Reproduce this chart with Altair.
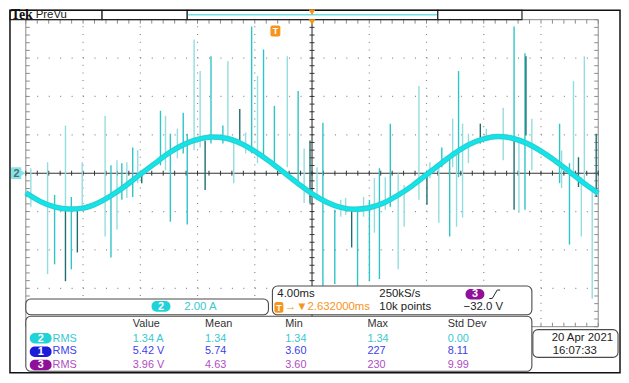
import altair as alt
import pandas as pd
import numpy as np

# ---------------- values read from the screen ----------------
# channel 2 current trace (ms, A) – 4 ms/div, 2 A/div, trigger at centre
trace_ms = list(range(-20, 21))
trace_amp = [-1.02, -1.47, -1.76, -1.87, -1.82, -1.57, -1.15, -0.64, -0.06, 0.50,
             1.05, 1.48, 1.76, 1.89, 1.82, 1.56, 1.14, 0.63, 0.05, -0.53,
             -1.07, -1.50, -1.78, -1.88, -1.80, -1.55, -1.15, -0.66, -0.08, 0.50,
             1.05, 1.50, 1.79, 1.91, 1.82, 1.56, 1.15, 0.64, 0.07, -0.52, -1.04]

# switching spikes riding on the trace: time, top, bottom, shade
spike_ms = [-19.65, -18.48, -17.99, -17.23, -17.23, -16.82, -16.40, -16.06, -14.46, -14.05,
            -13.63, -13.29, -12.94, -12.53, -12.18, -11.90, -10.59, -10.24, -9.90, -9.41,
            -9.00, -8.72, -8.24, -7.82, -7.47, -7.06, -6.23, -5.88, -5.47, -5.05,
            -4.64, -4.22, -3.81, -3.39, -2.63, -1.73, -0.97, -0.55, -0.14, 0.35,
            0.76, 1.59, 2.01, 2.35, 2.77, 3.18, 3.60, 4.01, 4.36, 4.71,
            5.12, 5.47, 6.02, 6.44, 7.47, 8.03, 8.24, 8.86, 9.07, 9.62,
            9.83, 10.10, 10.24, 10.52, 10.93, 11.76, 12.18, 13.36, 14.12, 14.12,
            14.46, 14.88, 14.95, 15.36, 17.30, 17.44, 17.99, 18.27, 18.62, 18.82,
            19.03, 19.58, 19.86]
spike_hi = [0.26, 0.57, -1.14, 2.48, -1.91, -1.24, -1.75, 0.57, 2.99, 0.41,
            0.67, 0.52, 0.57, 1.34, 1.19, 0.05, 3.25, 2.99, 2.06, 2.32,
            3.15, 2.06, 6.97, 5.32, 1.70, 6.09, 2.48, 5.83, 1.70, 3.35,
            2.12, 7.64, 5.06, 6.45, 3.51, 6.09, 4.28, 1.29, 1.70, 0.31,
            2.63, -1.91, -1.39, -1.29, -1.91, -1.91, -1.24, -1.39, -0.26, 0.26,
            -0.21, 2.58, 0.00, -0.62, 4.54, 0.05, 0.57, 0.31, 1.34, 0.83,
            2.84, 1.19, 5.32, 2.58, 2.06, 2.58, 2.32, 3.41, 7.64, 1.70,
            1.86, 6.25, 6.09, 2.84, 2.58, 1.19, 0.52, 4.80, 0.83, -0.21,
            6.09, -0.72, 2.06]
spike_lo = [-1.75, -5.26, -4.75, -1.91, -5.63, -5.01, -4.13, -1.75, -3.30, -4.39,
            -2.94, -1.39, -1.29, -1.24, -0.52, -0.52, 0.41, 0.15, -2.53, 0.77,
            1.03, -2.68, 1.19, 1.34, -0.88, 1.55, 1.55, 1.70, -0.52, 1.60,
            1.03, 1.03, 0.52, 0.77, 0.31, 0.31, -0.52, -1.55, -1.55, -1.39,
            -6.55, -5.78, -2.27, -2.17, -3.87, -6.04, -2.27, -5.63, -3.10, -5.52,
            -1.91, -1.75, -5.01, -2.79, -1.39, -1.65, -0.26, -2.58, 0.31, -3.30,
            0.31, -2.79, -0.21, -2.32, 0.52, 1.55, 1.70, 0.67, 1.70, -1.91,
            -2.06, -1.91, 1.96, 0.15, -0.52, -0.77, -3.72, 0.05, -0.72, -3.30,
            -0.52, -6.55, -1.24]
spike_shade = ["L", "L", "M", "L", "D", "M", "D", "L", "L", "M",
               "L", "M", "L", "M", "L", "D", "M", "L", "M", "L",
               "M", "M", "L", "L", "D", "M", "M", "L", "L", "D",
               "L", "M", "L", "M", "M", "L", "M", "L", "D", "L",
               "M", "M", "L", "L", "D", "M", "L", "M", "L", "M",
               "L", "M", "L", "L", "L", "D", "L", "L", "M", "M",
               "L", "L", "M", "L", "L", "D", "L", "L", "M", "D",
               "L", "M", "D", "L", "M", "L", "M", "L", "D", "L",
               "L", "L", "D"]

meas_source = ["2", "1", "3"]
meas_kind = ["RMS", "RMS", "RMS"]
meas_value = ["1.34 A", "5.42 V", "3.96 V"]
meas_mean = ["1.34", "5.74", "4.63"]
meas_min = ["1.34", "3.60", "3.60"]
meas_max = ["1.34", "227", "230"]
meas_std = ["0.00", "8.11", "9.99"]
meas_headers = ["Value", "Mean", "Min", "Max", "Std Dev"]

# ---------------- styling ----------------
W, H = 578, 310
OX, OY = 26, 18          # page position of the graticule's top-left corner
SHADE = {"L": "#93dde0", "M": "#2fc4c7", "D": "#1e6e70"}
ROWCOL = ["#36c9d0", "#4040e8", "#b24cc2"]
PILLCOL = ["#1fd3d8", "#1b1bd9", "#8f1199"]
ORANGE = "#f7941d"
FONT = "Liberation Sans"

XS = alt.Scale(domain=[-20, 20], nice=False, zero=False)
YS = alt.Scale(domain=[-8, 8], nice=False, zero=False)


def dx(field):
    return alt.X(field, type="quantitative", scale=XS, axis=None)


def dy(field):
    return alt.Y(field, type="quantitative", scale=YS, axis=None)


def prect(rows, radius=0, sw=1.0):
    df = pd.DataFrame(rows, columns=["X1", "Y1", "X2", "Y2", "fill", "stroke"])
    df["x1"], df["x2"] = df.X1 - OX, df.X2 - OX
    df["y1"], df["y2"] = df.Y1 - OY, df.Y2 - OY
    return alt.Chart(df).mark_rect(cornerRadius=radius, strokeWidth=sw).encode(
        x=alt.X("x1:Q", scale=None, axis=None), x2="x2:Q",
        y=alt.Y("y1:Q", scale=None, axis=None), y2="y2:Q",
        fill=alt.Fill("fill:N", scale=None), stroke=alt.Stroke("stroke:N", scale=None))


def prule(rows):
    df = pd.DataFrame(rows, columns=["X1", "Y1", "X2", "Y2", "color", "w"])
    df["x1"], df["x2"] = df.X1 - OX, df.X2 - OX
    df["y1"], df["y2"] = df.Y1 - OY, df.Y2 - OY
    return alt.Chart(df).mark_rule().encode(
        x=alt.X("x1:Q", scale=None, axis=None), x2="x2:Q",
        y=alt.Y("y1:Q", scale=None, axis=None), y2="y2:Q",
        color=alt.Color("color:N", scale=None),
        strokeWidth=alt.StrokeWidth("w:Q", scale=None))


def ptext(rows, **mark):
    df = pd.DataFrame(rows, columns=["X", "Y", "text", "color"])
    df["x"], df["y"] = df.X - OX, df.Y - OY
    props = dict(font=FONT, fontSize=11, align="left", baseline="middle")
    props.update(mark)
    return alt.Chart(df).mark_text(**props).encode(
        x=alt.X("x:Q", scale=None, axis=None), y=alt.Y("y:Q", scale=None, axis=None),
        text="text:N", color=alt.Color("color:N", scale=None))


def ppoint(rows, shape, size):
    df = pd.DataFrame(rows, columns=["X", "Y", "color"])
    df["x"], df["y"] = df.X - OX, df.Y - OY
    return alt.Chart(df).mark_point(shape=shape, size=size, filled=True, opacity=1).encode(
        x=alt.X("x:Q", scale=None, axis=None), y=alt.Y("y:Q", scale=None, axis=None),
        color=alt.Color("color:N", scale=None))


# ---------------- graticule ----------------
vgrid = pd.DataFrame({"t": [-16, -12, -8, -4, 4, 8, 12, 16], "a0": -8, "a1": 8})
hgrid = pd.DataFrame({"a": [-6, -4, -2, 2, 4, 6], "t0": -20, "t1": 20})
grid_v = alt.Chart(vgrid).mark_rule(color="#8a8a8a", strokeWidth=1.2, strokeDash=[1, 6.75]).encode(
    x=dx("t"), y=dy("a0"), y2="a1")
grid_h = alt.Chart(hgrid).mark_rule(color="#8a8a8a", strokeWidth=1.2, strokeDash=[1, 10.56]).encode(
    y=dy("a"), x=dx("t0"), x2="t1")

minor_t = np.round(np.arange(-20, 20.01, 0.8), 3)
minor_a = np.round(np.arange(-8, 8.01, 0.4), 3)
tpx, apx = 40 / W, 16 / H          # data units per pixel
tick_rows = []
for t in minor_t:
    tick_rows.append((t, t, 8, 8 - 4 * apx, "#8a8a8a"))
    tick_rows.append((t, t, -8, -8 + 4 * apx, "#8a8a8a"))
    tick_rows.append((t, t, -2.5 * apx, 2.5 * apx, "#333333"))
for a in minor_a:
    tick_rows.append((-20, -20 + 4 * tpx, a, a, "#8a8a8a"))
    tick_rows.append((20, 20 - 4 * tpx, a, a, "#8a8a8a"))
    tick_rows.append((-2.5 * tpx, 2.5 * tpx, a, a, "#333333"))
ticks_df = pd.DataFrame(tick_rows, columns=["t0", "t1", "a0", "a1", "c"])
ticks = alt.Chart(ticks_df).mark_rule(strokeWidth=1).encode(
    x=dx("t0"), x2="t1", y=dy("a0"), y2="a1", color=alt.Color("c:N", scale=None))

cross_df = pd.DataFrame({"t0": [-20, 0], "t1": [20, 0], "a0": [0, -8], "a1": [0, 8]})
cross = alt.Chart(cross_df).mark_rule(color="#333333", strokeWidth=1.1).encode(
    x=dx("t0"), x2="t1", y=dy("a0"), y2="a1")

border = prect([(OX, OY, OX + W, OY + H, "transparent", "#8a8a8a")])

# ---------------- signal ----------------
spk = pd.DataFrame({"t": spike_ms, "hi": spike_hi, "lo": spike_lo,
                    "c": [SHADE[s] for s in spike_shade]})
spikes = alt.Chart(spk).mark_rule(strokeWidth=1.4).encode(
    x=dx("t"), y=dy("hi"), y2="lo", color=alt.Color("c:N", scale=None))

tr = pd.DataFrame({"t": trace_ms, "a": trace_amp})
trace_under = alt.Chart(tr).mark_line(color="#2ccfd2", strokeWidth=5.5, interpolate="monotone").encode(
    x=dx("t"), y=dy("a"))
trace_top = alt.Chart(tr).mark_line(color="#10e6ea", strokeWidth=3, interpolate="monotone").encode(
    x=dx("t"), y=dy("a"))

# ---------------- decorations ----------------
chan_marker = prect([(11, 167, 21.5, 179, "#86e3e8", "#86e3e8")], radius=1, sw=0)
chan_tip = ppoint([(22.5, 173, "#86e3e8")], "triangle-right", 55)

panels = prect([
    (26, 300, 271, 316, "white", "#4a4a4a"),
    (275, 287, 537, 316, "white", "#4a4a4a"),
    (26, 317.5, 537, 373, "white", "#4a4a4a"),
    (538, 331, 624, 359, "white", "#4a4a4a"),
], radius=5, sw=1.1)

pills = prect([
    (153, 302, 172, 313, PILLCOL[0], PILLCOL[0]),
    (470, 290, 489, 300.5, PILLCOL[2], PILLCOL[2]),
    (30, 334.5, 52, 345, PILLCOL[0], PILLCOL[0]),
    (30, 348, 52, 358.5, PILLCOL[1], PILLCOL[1]),
    (30, 361.5, 52, 372, PILLCOL[2], PILLCOL[2]),
], radius=5, sw=0)

badges = prect([
    (277, 303, 286, 314, ORANGE, ORANGE),
    (273, 24, 283, 35, ORANGE, ORANGE),
    (295, 11, 300, 17.5, ORANGE, ORANGE),
], radius=2, sw=0)

topbar = prect([
    (10, 8.5, 103, 18, "white", "#222222"),
    (103, 8.5, 189, 18, "white", "#222222"),
    (189, 8.5, 442, 18, "white", "#222222"),
    (442, 8.5, 527, 18, "white", "#222222"),
], sw=1.2)

frame = prect([(10, 8.5, 626, 374.5, "transparent", "#111111")], sw=1.5)

lines = prule([
    (190, 13, 441, 13, "#6fe0e6", 1.5),
    (494, 299.5, 497, 299.5, "#222222", 1),
    (497, 299.5, 502, 291, "#222222", 1),
    (502, 291, 505, 291, "#222222", 1),
])

tris = ppoint([(315, 10.5, ORANGE), (315, 20.5, ORANGE)], "triangle-down", 45)

# texts
col_x = [134, 207, 288, 371, 452]
row_y = [340, 353, 367]
tab_rows = [(X, 325, h, "#333333") for X, h in zip(col_x, meas_headers)]
for i in range(3):
    vals = [meas_value[i], meas_mean[i], meas_min[i], meas_max[i], meas_std[i]]
    tab_rows.append((53, row_y[i], meas_kind[i], ROWCOL[i]))
    for X, v in zip(col_x, vals):
        tab_rows.append((X, row_y[i], v, ROWCOL[i]))
table_text = ptext(tab_rows)

info_text = ptext([
    (186, 308, "2.00 A", ROWCOL[0]),
    (280, 295, "4.00ms", "#222222"),
    (287.5, 308.5, "\u2192\u25bc2.632000ms", ORANGE),
    (383, 295, "250kS/s", "#222222"),
    (383, 308.5, "10k points", "#222222"),
    (468, 308.5, "\u221232.0 V", "#222222"),
    (557, 339, "20 Apr  2021", "#222222"),
    (558, 352.5, "16:07:33", "#222222"),
    (36, 13.5, "PreVu", "#222222"),
], fontSize=11.5)

pill_text = ptext([
    (162.5, 307.8, "2", "white"),
    (479.5, 295.5, "3", "white"),
    (41, 340, meas_source[0], "white"),
    (41, 353.5, meas_source[1], "white"),
    (41, 367, meas_source[2], "white"),
], align="center", fontWeight="bold", fontSize=11)

t_text = ptext([
    (281.5, 308.8, "T", "white"),
    (278, 29.8, "T", "white"),
], align="center", fontWeight="bold", fontSize=9)

chan_text = ptext([(16.5, 173.5, "2", "#4d7072")], align="center", fontWeight="bold", fontSize=11)

tek = ptext([(11, 17.5, "Tek", "#111111")], font="Liberation Serif", fontWeight="bold",
            fontSize=14, baseline="alphabetic")

chart = alt.layer(
    grid_v, grid_h, border, ticks, cross, spikes, trace_under, trace_top,
    chan_marker, chan_tip, panels, pills, badges, topbar, frame, lines, tris,
    table_text, info_text, pill_text, t_text, chan_text, tek,
).resolve_scale(x="independent", y="independent").properties(
    width=W, height=H,
    padding={"left": 18, "top": 10, "right": 23, "bottom": 47},
    autosize=alt.AutoSizeParams(type="none"),
    background="white",
).configure_view(stroke=None)

chart.save("out.html", embed_options={"renderer": "svg", "actions": False})
